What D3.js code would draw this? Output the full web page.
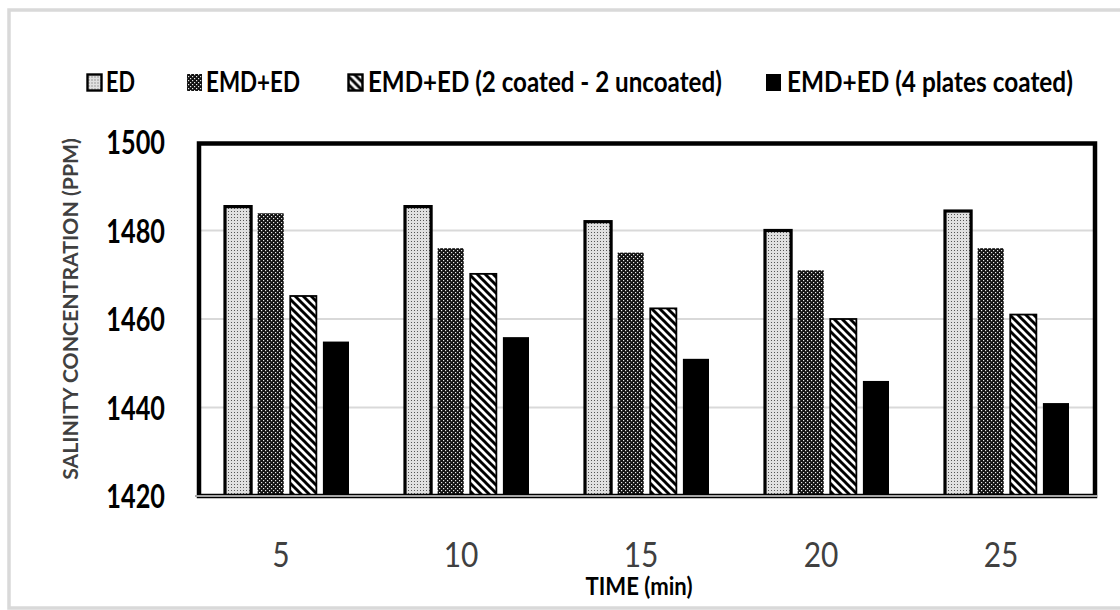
<!DOCTYPE html>
<html>
<head>
<meta charset="utf-8">
<script src="https://cdn.jsdelivr.net/npm/d3@7/dist/d3.min.js"></script>
<style>
  html, body { margin: 0; padding: 0; background: #fff; }
  svg { display: block; font-family: Lato, "Open Sans", sans-serif; }
</style>
</head>
<body>
<svg id="chart" width="1120" height="610"></svg>
<script>
// ---------------- data ----------------
const categories = ["5", "10", "15", "20", "25"];
const seriesNames = ["ED", "EMD+ED", "EMD+ED (2 coated - 2 uncoated)", "EMD+ED (4 plates coated)"];
const edValues      = [1485.4, 1485.4, 1482.0, 1480.0, 1484.4];
const emdEdValues   = [1483.9, 1476.0, 1475.0, 1471.0, 1476.0];
const coated2Values = [1465.2, 1470.2, 1462.4, 1460.0, 1461.0];
const coated4Values = [1454.9, 1455.9, 1451.0, 1446.0, 1441.0];
const yTicks = [1420, 1440, 1460, 1480, 1500];
const yTitle = "SALINITY CONCENTRATION (PPM)";
const xTitle = "TIME (min)";

const seriesValues = [edValues, emdEdValues, coated2Values, coated4Values];

// ---------------- layout ----------------
const svg = d3.select("#chart");
const plot = { left: 199, right: 1095, top: 143.5, bottom: 496 };

const x0 = d3.scaleBand().domain(categories).range([197, 1097]).padding(0);
const x1 = d3.scaleBand().domain(d3.range(seriesNames.length)).range([-62, 62]).paddingInner(0.2).paddingOuter(0);
const y = d3.scaleLinear().domain([1420, 1500]).range([496, 142]);

// ---------------- patterns ----------------
const defs = svg.append("defs");
const pED = defs.append("pattern").attr("id", "pED").attr("patternUnits", "userSpaceOnUse")
  .attr("width", 3).attr("height", 3);
pED.append("rect").attr("width", 3).attr("height", 3).attr("fill", "#e0e0e0");
pED.append("rect").attr("x", 1).attr("y", 1).attr("width", 1).attr("height", 1).attr("fill", "#555");

const pEMD = defs.append("pattern").attr("id", "pEMD").attr("patternUnits", "userSpaceOnUse")
  .attr("width", 4).attr("height", 4);
pEMD.append("rect").attr("width", 4).attr("height", 4).attr("fill", "#111");
pEMD.append("rect").attr("x", 0).attr("y", 0).attr("width", 1.2).attr("height", 1.2).attr("fill", "#e8e8e8");
pEMD.append("rect").attr("x", 2).attr("y", 2).attr("width", 1.2).attr("height", 1.2).attr("fill", "#e8e8e8");

const pHatch = defs.append("pattern").attr("id", "pHatch").attr("patternUnits", "userSpaceOnUse")
  .attr("width", 8).attr("height", 8);
pHatch.append("rect").attr("width", 8).attr("height", 8).attr("fill", "#fff");
pHatch.append("path").attr("d", "M-2,-2 L10,10 M-2,6 L2,10 M6,-2 L10,2")
  .attr("stroke", "#000").attr("stroke-width", 2.9);

const seriesStyle = [
  { fill: "url(#pED)", stroke: "#000", sw: 3.2 },
  { fill: "url(#pEMD)", stroke: "none", sw: 0 },
  { fill: "url(#pHatch)", stroke: "#000", sw: 1.8 },
  { fill: "#000", stroke: "none", sw: 0 }
];

// ---------------- outer frame ----------------
svg.append("rect").attr("x", 9).attr("y", 10).attr("width", 1130).attr("height", 598)
  .attr("fill", "#fff").attr("stroke", "#d9d9d9").attr("stroke-width", 3.5);

// helper: squeeze text horizontally via transform (about its own anchor point)
function squeeze(sel, k, extra) {
  sel.each(function () {
    const t = d3.select(this);
    const ax = +t.attr("x") || 0, ay = +t.attr("y") || 0;
    t.attr("transform", `translate(${ax},${ay}) scale(${k},1) translate(${-ax},${-ay})` + (extra || ""));
  });
}
function fitTo(sel, width) {
  sel.each(function () {
    const len = this.getComputedTextLength();
    squeeze(d3.select(this), width / len);
  });
}

// ---------------- gridlines ----------------
svg.append("g").selectAll("line").data(yTicks.filter(t => t > 1420 && t < 1500)).join("line")
  .attr("x1", plot.left).attr("x2", plot.right)
  .attr("y1", d => y(d)).attr("y2", d => y(d))
  .attr("stroke", "#d9d9d9").attr("stroke-width", 2);

// ---------------- bars ----------------
const rows = categories.map((c, i) => ({ cat: c, vals: seriesValues.map(s => s[i]) }));
const groups = svg.append("g").selectAll("g").data(rows).join("g")
  .attr("transform", d => `translate(${x0(d.cat) + x0.bandwidth() / 2},0)`);
groups.selectAll("rect").data(d => d.vals.map((v, k) => ({ k, v }))).join("rect")
  .attr("x", d => x1(d.k))
  .attr("width", x1.bandwidth())
  .attr("y", d => y(d.v))
  .attr("height", d => y(1420) - y(d.v))
  .attr("fill", d => seriesStyle[d.k].fill)
  .attr("stroke", d => seriesStyle[d.k].stroke)
  .attr("stroke-width", d => seriesStyle[d.k].sw);

// ---------------- plot frame ----------------
svg.append("rect").attr("x", plot.left).attr("y", plot.top)
  .attr("width", plot.right - plot.left).attr("height", plot.bottom - plot.top)
  .attr("fill", "none").attr("stroke", "#000").attr("stroke-width", 4.5);
svg.append("line").attr("x1", 195).attr("x2", 1097).attr("y1", 496).attr("y2", 496)
  .attr("stroke", "#a6a6a6").attr("stroke-width", 2);

// ---------------- y axis ----------------
const yAxis = svg.append("g").attr("transform", "translate(165,0)")
  .call(d3.axisLeft(y).tickValues(yTicks).tickSize(0).tickPadding(0).tickFormat(d3.format("d")));
yAxis.select(".domain").remove();
yAxis.selectAll("text")
  .attr("font-family", "Lato, sans-serif").attr("font-size", 32).attr("font-weight", "bold")
  .attr("fill", "#000").attr("dy", "0.36em").attr("x", 0).attr("y", 0);
squeeze(yAxis.selectAll("text"), 0.79);

// ---------------- x axis ----------------
const xAxis = svg.append("g").attr("transform", "translate(0,496)")
  .call(d3.axisBottom(x0).tickSize(0).tickPadding(0));
xAxis.select(".domain").remove();
xAxis.selectAll("text")
  .attr("font-family", "Lato, sans-serif").attr("font-size", 34).attr("font-weight", "normal")
  .attr("fill", "#404040").attr("x", -6).attr("y", 71).attr("dy", 0);
squeeze(xAxis.selectAll("text"), 0.88);

// ---------------- titles ----------------
const yt = svg.append("text").text(yTitle)
  .attr("x", 0).attr("y", 0)
  .attr("text-anchor", "middle")
  .attr("font-family", "Lato, sans-serif").attr("font-size", 20).attr("font-weight", "bold")
  .attr("fill", "#404040");
{
  const len = yt.node().getComputedTextLength();
  yt.attr("transform", `translate(78,309) rotate(-90) scale(${342 / len},1)`);
}

const xt = svg.append("text").text(xTitle)
  .attr("x", 639).attr("y", 595).attr("text-anchor", "middle")
  .attr("font-family", "Lato, sans-serif").attr("font-size", 24).attr("font-weight", "bold")
  .attr("fill", "#000");
fitTo(xt, 107);

// ---------------- legend ----------------
const legendLayout = [
  { sx: 87, tx: 106, tw: 29 },
  { sx: 187, tx: 206, tw: 94 },
  { sx: 348, tx: 368, tw: 354 },
  { sx: 766, tx: 787, tw: 286 }
];
const leg = svg.append("g").selectAll("g").data(seriesNames).join("g");
leg.append("rect")
  .attr("x", (d, i) => legendLayout[i].sx).attr("y", 74)
  .attr("width", (d, i) => seriesStyle[i].sw ? 14 : 15).attr("height", (d, i) => seriesStyle[i].sw ? 16 : 17)
  .attr("transform", (d, i) => seriesStyle[i].sw ? "translate(0.5,0.5)" : null)
  .attr("fill", (d, i) => seriesStyle[i].fill)
  .attr("stroke", (d, i) => seriesStyle[i].stroke)
  .attr("stroke-width", (d, i) => seriesStyle[i].sw ? 2.4 : 0);
leg.append("text").text(d => d)
  .attr("x", (d, i) => legendLayout[i].tx).attr("y", 92.5)
  .attr("font-family", "Lato, sans-serif").attr("font-size", 29).attr("font-weight", "bold")
  .attr("fill", "#000")
  .each(function (d, i) { fitTo(d3.select(this), legendLayout[i].tw); });
</script>
</body>
</html>
